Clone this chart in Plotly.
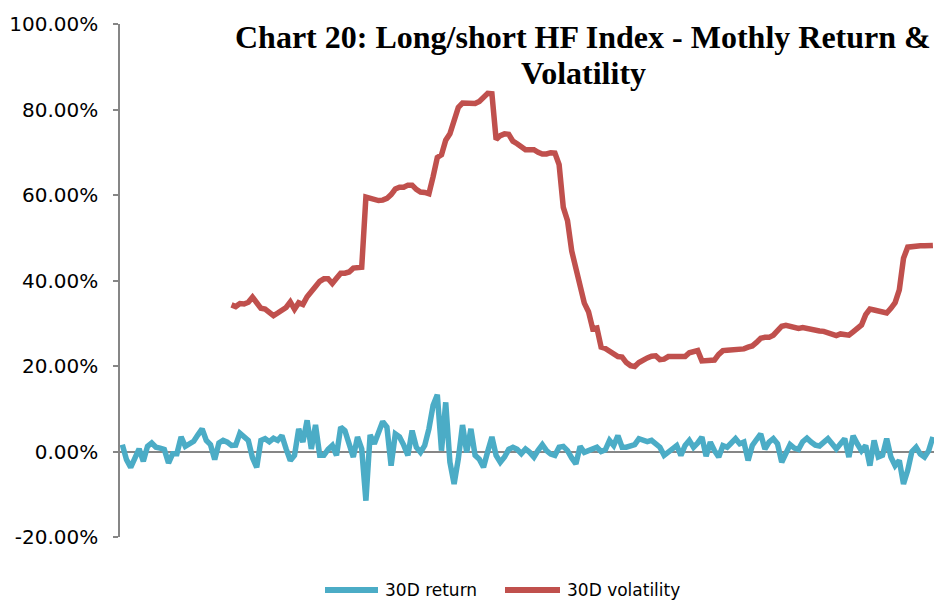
import plotly.graph_objects as go

# month index (x) for each observation
ret_values = [
    1.6, -1.9, -3.7, -1.3, 0.6, -2.3, 1.2, 2.0, 1.0, 0.8,
    0.5, -2.7, -0.5, -0.5, 3.4, 1.2, 1.8, 2.4, 3.9, 5.3,
    2.6, 1.6, -1.9, 2.0, 2.6, 2.2, 1.4, 1.5, 4.3, 3.5,
    2.6, -1.5, -3.7, 2.6, 3.0, 2.3, 3.1, 2.6, 3.7, 0.6,
    -2.1, -0.9, 5.3, 2.2, 7.3, 0.6, 6.2, -0.9, -0.9, 0.5,
    1.4, -0.9, 5.7, 4.9, 2.2, -1.3, 3.4, 0.6, -11.5, 3.9,
    1.8, 4.5, 7.0, 5.7, -3.3, 4.1, 3.4, 1.5, -0.9, 4.9,
    1.0, -0.2, 1.4, 5.3, 10.8, 13.3, 0.2, 11.5, -2.5, -7.6,
    -1.7, 6.2, -0.2, 5.3, -0.9, -1.8, -3.7, 0.0, 3.4, -0.9,
    -2.5, -1.3, 0.5, 1.0, 0.5, -0.5, 0.6, -0.2, -1.3, 0.3,
    1.6, 0.2, -0.6, -0.9, 1.0, 1.2, 0.2, -1.5, -2.9, 1.2,
    -0.2, 0.2, 0.6, 1.0, 0.0, 0.4, 2.6, 1.4, 3.7, 1.0,
    1.0, 1.2, 1.6, 3.0, 2.6, 2.3, 2.6, 1.9, 1.0, -0.9,
    -0.2, 0.5, 1.4, -0.9, 1.4, 2.6, 1.0, 2.0, 3.4, -1.1,
    2.2, 0.2, -1.3, 1.4, 1.0, 2.0, 3.0, 1.8, 2.2, -2.1,
    1.4, 2.8, 4.1, 0.6, 2.2, 3.0, 1.8, -2.5, -0.2, 1.6,
    0.8, 0.5, 2.3, 3.1, 2.2, 1.5, 1.3, 2.2, 3.0, 1.8,
    0.6, 1.8, 3.0, -1.3, 3.7, 1.8, 0.2, 1.4, -3.3, 2.6,
    -1.3, -0.9, 3.0, -1.3, -3.3, -2.1, -7.6, -4.4, 0.0, 1.0,
    -0.6, -1.3, 0.2, 3.4,
]

vol_start = 26
vol_values = [
    34.3, 33.9, 34.6, 34.5, 34.9, 36.1, 34.8, 33.5, 33.3, 32.6,
    31.8, 32.4, 32.9, 33.7, 35.0, 33.3, 34.8, 34.4, 36.2, 37.6,
    38.6, 39.8, 40.4, 40.4, 39.3, 40.5, 41.7, 41.7, 42.0, 42.9,
    43.0, 43.1, 59.5, 59.2, 58.9, 58.7, 58.8, 59.2, 60.1, 61.4,
    61.8, 61.8, 62.3, 62.3, 61.3, 60.7, 60.6, 60.3, 64.3, 68.8,
    69.4, 72.8, 74.3, 78.0, 80.5, 81.5, 81.5, 81.2, 81.4, 81.9,
    82.7, 83.8, 83.7, 73.0, 73.9, 74.3, 74.2, 72.6, 72.0, 71.3,
    70.6, 70.6, 70.6, 70.0, 69.6, 69.6, 69.9, 69.8, 67.1, 57.1,
    54.0, 46.9, 42.9, 39.5, 34.7, 32.7, 28.7, 28.9, 24.4, 24.1,
    23.4, 22.8, 22.2, 22.1, 20.8, 20.1, 19.9, 20.8, 21.5, 21.9,
    22.3, 22.4, 21.5, 21.6, 22.2, 22.2, 22.2, 22.2, 22.2, 23.1,
    23.4, 23.6, 21.2, 21.3, 21.2, 21.4, 22.7, 23.6, 23.7, 23.7,
    23.7, 23.8, 24.0, 24.4, 24.7, 25.5, 26.5, 26.7, 26.7, 27.2,
    28.5, 29.3, 29.5, 29.2, 28.8, 28.8, 29.0, 28.8, 28.3, 28.2,
    28.2, 28.1, 27.8, 27.5, 27.1, 27.5, 27.5, 27.2, 28.0, 28.8,
    29.6, 32.0, 33.3, 33.1, 32.9, 32.6, 32.4, 33.5, 34.8, 37.8,
    45.2, 47.8, 48.0, 48.1, 48.1, 48.1, 48.2, 48.2,
]

y_tick_values = [-20, 0, 20, 40, 60, 80, 100]
y_tick_labels = ["-20.00%", "0.00%", "20.00%", "40.00%", "60.00%", "80.00%", "100.00%"]
title_lines = ["Chart 20: Long/short HF Index - Mothly Return &", "Volatility"]
series_names = ["30D return", "30D volatility"]
colors = ["#4BACC6", "#C0504D"]

ret_x = list(range(len(ret_values)))
vol_x = list(range(vol_start, vol_start + len(vol_values)))

fig = go.Figure()
fig.add_trace(go.Scatter(x=ret_x, y=ret_values, mode="lines", name=series_names[0],
                         line=dict(color=colors[0], width=5.5), showlegend=False))
fig.add_trace(go.Scatter(x=vol_x, y=vol_values, mode="lines", name=series_names[1],
                         line=dict(color=colors[1], width=5.5), showlegend=False))

W, H = 934, 601
L, R, T, B = 120, 0, 24, 64
pw = W - L - R
ph = H - T - B

def px_x(p):
    return (p - L) / pw

def px_y(p):
    return 1 - (p - T) / ph

fig.update_layout(
    width=W, height=H,
    margin=dict(l=L, r=R, t=T, b=B, pad=0),
    paper_bgcolor="white", plot_bgcolor="white",
    xaxis=dict(range=[-0.55, 193.26], showgrid=False, zeroline=False,
               showticklabels=False, ticks="", showline=False),
    yaxis=dict(range=[-20, 100], tickvals=y_tick_values, ticktext=y_tick_labels,
               showgrid=False, zeroline=True,
               zerolinecolor="#868686", zerolinewidth=2,
               showline=True, linecolor="#868686", linewidth=1.5,
               ticks="outside", ticklen=5, tickcolor="#868686", tickwidth=1.5,
               ticklabelstandoff=11,
               tickfont=dict(family="DejaVu Sans", size=20, color="#000000")),
)

for line_text, yc in zip(title_lines, [37, 73]):
    fig.add_annotation(text="<b>" + line_text + "</b>", xref="paper", yref="paper",
                       x=px_x(583), y=px_y(yc), xanchor="center", yanchor="middle",
                       showarrow=False, align="center",
                       font=dict(family="Liberation Serif", size=32, color="#000000"))

# legend drawn manually
leg_y = 590
items = [(325, 378, 383), (505, 560, 565)]
for (x0, x1, tx), name, col in zip(items, series_names, colors):
    fig.add_shape(type="line", xref="paper", yref="paper",
                  x0=px_x(x0), x1=px_x(x1), y0=px_y(leg_y), y1=px_y(leg_y),
                  line=dict(color=col, width=6))
    fig.add_annotation(text=name, xref="paper", yref="paper", x=px_x(tx), y=px_y(leg_y),
                       xanchor="left", yanchor="middle", showarrow=False,
                       font=dict(family="DejaVu Sans", size=17, color="#000000"))

fig.write_html("out.html", config={"displayModeBar": False},
               post_script="document.body.style.margin='0';")
